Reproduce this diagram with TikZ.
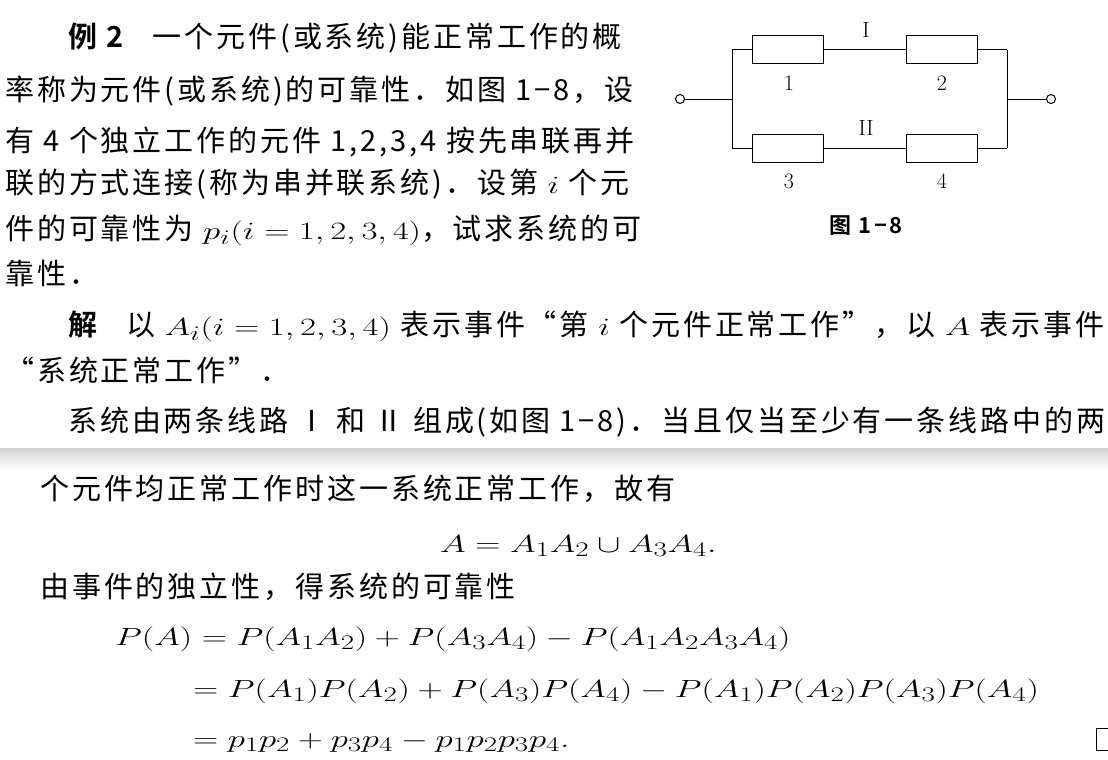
\documentclass[tikz,border=0pt]{standalone}
\usepackage{fontspec}
\usepackage{graphicx}
\newfontfamily\cjk[LetterSpace=10]{Noto Sans CJK SC}
\newfontfamily\cjkb[LetterSpace=10]{Noto Sans CJK SC Bold}
\newcommand{\mth}[1]{\scalebox{1.4}[1]{\fontsize{32}{40}\selectfont$#1$}}
\tikzset{
  txt/.style={anchor=base west,inner sep=0pt,font=\cjk\fontsize{29}{34}\selectfont},
  res/.style={draw,line width=1pt,minimum width=71pt,minimum height=28pt,inner sep=0pt,fill=white},
  term/.style={draw,circle,line width=1pt,minimum size=9pt,inner sep=0pt},
  lab/.style={font=\fontsize{22}{24}\selectfont,inner sep=0pt},
  wire/.style={line width=1pt}
}
\begin{document}
\begin{tikzpicture}[x=1pt,y=-1pt]
\useasboundingbox (0,0) rectangle (1108,760);
\fill[white] (0,0) rectangle (1108,760);
\shade[top color=gray!35,bottom color=white] (0,448) rectangle (1108,470);
% text upper
\node[txt] (l1) at (68,48) {{\cjkb 例 2}\quad 一个元件(或系统)能正常工作的概};
\node[txt] (l2) at (5,100) {率称为元件(或系统)的可靠性．如图 1−8，设};
\node[txt] (l3) at (5,151) {有 4 个独立工作的元件 1,2,3,4 按先串联再并};
\node[txt] (l4) at (5,193) {联的方式连接(称为串并联系统)．设第 \mth{i} 个元};
\node[txt] (l5) at (5,239) {件的可靠性为 \mth{p_i(i=1,2,3,4)}，试求系统的可};
\node[txt] (l6) at (5,284) {靠性．};
\node[txt] (l7) at (68,335) {{\cjkb 解}\quad 以 \mth{A_i(i=1,2,3,4)} 表示事件“第 \mth{i} 个元件正常工作”，以 \mth{A} 表示事件};
\node[txt] (l8) at (5,381) {“系统正常工作”．};
\node[txt] (l9) at (68,431) {系统由两条线路 Ⅰ 和 Ⅱ 组成(如图 1−8)．当且仅当至少有一条线路中的两};
% lower
\node[txt] (m1) at (40,499) {个元件均正常工作时这一系统正常工作，故有};
\node[txt] (m2) at (440,552) {\mth{A = A_1A_2\cup A_3A_4.}};
\node[txt] (m3) at (40,597) {由事件的独立性，得系统的可靠性};
\node[txt] (m4) at (115,645) {\mth{P(A)= P(A_1A_2)+P(A_3A_4)-P(A_1A_2A_3A_4)}};
\node[txt] (m5) at (193,697) {\mth{= P(A_1)P(A_2)+P(A_3)P(A_4)-P(A_1)P(A_2)P(A_3)P(A_4)}};
\node[txt] (m6) at (193,747) {\mth{= p_1p_2+p_3p_4-p_1p_2p_3p_4.}};
\node[draw,line width=0.8pt,minimum width=12pt,minimum height=22pt,inner sep=0pt] (qed) at (1102,739) {};
% circuit
\node[term] (tl) at (680,99) {};
\node[term] (tr) at (1051,99) {};
\coordinate (jl) at (732,99);
\coordinate (jr) at (1007,99);
\node[res] (r1) at (788,50) {};
\node[res] (r2) at (942,50) {};
\node[res] (r3) at (788,148) {};
\node[res] (r4) at (942,148) {};
\draw[wire] (tl) -- (jl) (jr) -- (tr);
\draw[wire] (jl |- r1) -- (jl |- r3);
\draw[wire] (jr |- r2) -- (jr |- r4);
\draw[wire] (jl |- r1) -- (r1) -- (r2) -- (jr |- r2);
\draw[wire] (jl |- r3) -- (r3) -- (r4) -- (jr |- r4);
\node[lab] at (866,30) {I};
\node[lab] at (866,128) {II};
\node[lab] at (789,83) {1};
\node[lab] at (942,83) {2};
\node[lab] at (789,181) {3};
\node[lab] at (942,181) {4};
\node[lab,font=\cjkb\fontsize{22}{24}\selectfont] (cap) at (866,226) {图 1−8};
\end{tikzpicture}
\end{document}
